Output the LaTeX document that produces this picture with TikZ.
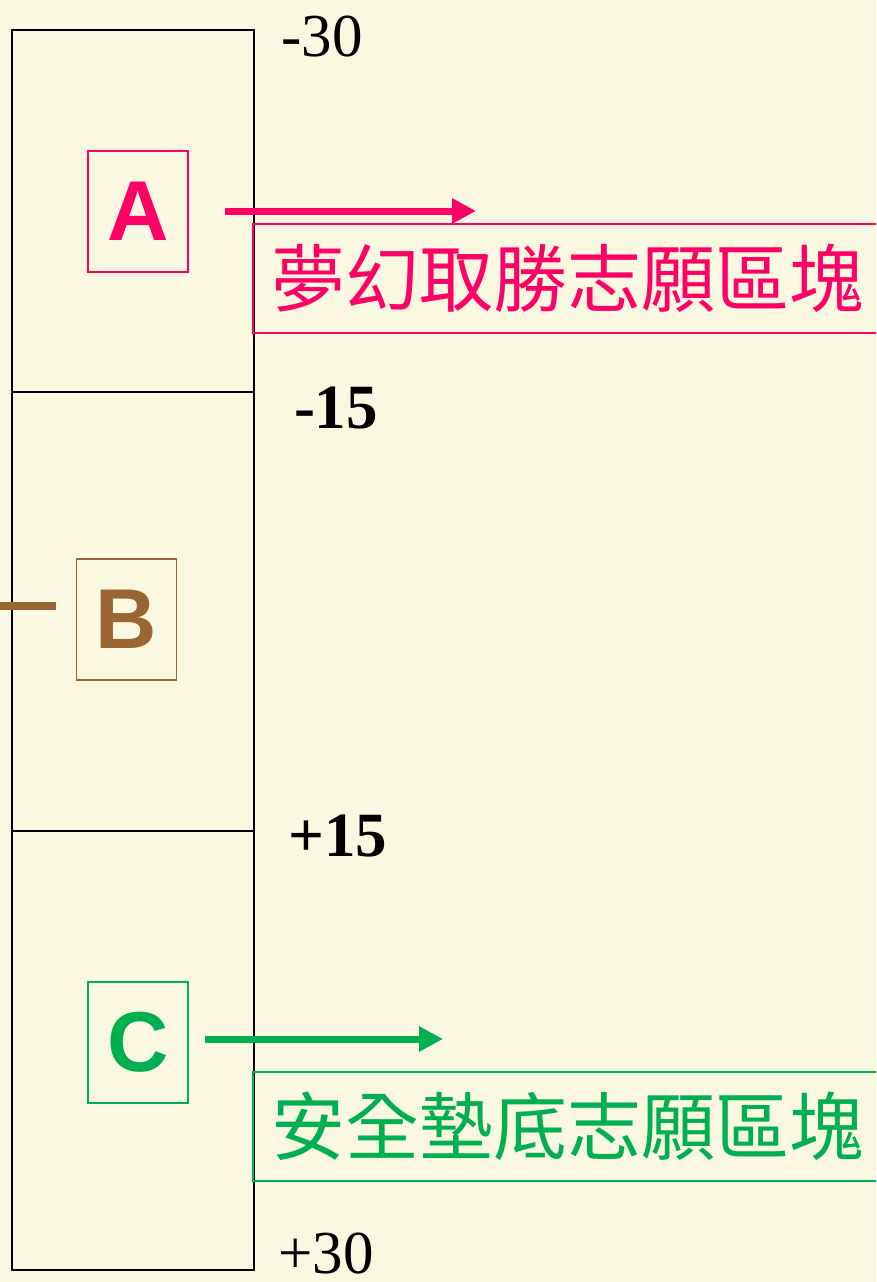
\documentclass[tikz,border=0pt]{standalone}
\usepackage{fontspec}
\setmainfont{Liberation Serif}
\newfontfamily\cjkfont{Noto Sans CJK TC}
\newfontfamily\boxfont{Liberation Sans}
\usetikzlibrary{arrows.meta}
\definecolor{paper}{RGB}{251,248,226}
\definecolor{dreampink}{RGB}{255,0,102}
\definecolor{midbrown}{RGB}{153,102,51}
\definecolor{safegreen}{RGB}{0,176,80}
\tikzset{
  letterbox/.style={draw=#1, text=#1, line width=1.5pt, minimum width=100pt, minimum height=121pt,
    inner sep=0pt, font=\boxfont\bfseries\fontsize{85}{85}\selectfont},
  zonebox/.style={draw=#1, text=#1, line width=1.5pt, minimum width=630pt, minimum height=109pt,
    anchor=north west, inner sep=0pt, font=\cjkfont\fontsize{74}{74}\selectfont},
  zonearrow/.style={draw=#1, line width=7pt, -{Triangle[length=24pt,width=24pt]}},
  scorelabel/.style={font=\fontsize{61}{61}\selectfont, inner sep=0pt},
  boldscore/.style={scorelabel, font=\bfseries\fontsize{63}{63}\selectfont}
}
\begin{document}
\begin{tikzpicture}[x=1pt,y=-1pt]
\fill[paper] (0,0) rectangle (876,1282);
\useasboundingbox (0,0) rectangle (876,1282);
\clip (0,0) rectangle (876,1282);
% score column
\draw[line width=1.5pt] (12,30) rectangle (254,1270);
\draw[line width=1.5pt] (12,392) -- (254,392);
\draw[line width=1.5pt] (12,831) -- (254,831);
\node[scorelabel] (top) at (322,37) {-30};
\node[boldscore] (upper) at (336,408) {-15};
\node[boldscore] (lower) at (338,836) {+15};
\node[scorelabel] (bottom) at (326,1253) {+30};
% zones
\node[letterbox=dreampink] (A) at (138,211.5) {A};
\node[letterbox=midbrown] (B) at (126.5,619.5) {B};
\node[letterbox=safegreen] (C) at (138,1042.5) {C};
\node[zonebox=dreampink] (dream) at (252,223) {夢幻取勝志願區塊};
\node[zonebox=safegreen] (safe) at (252,1071) {安全墊底志願區塊};
\coordinate (dreamtip) at (476,211);
\coordinate (safetip) at (443,1039);
\coordinate (bstub) at (0,606);
\draw[zonearrow=dreampink] ([xshift=36pt]A.east |- dreamtip) -- (dreamtip);
\draw[zonearrow=safegreen] ([xshift=16pt]C.east |- safetip) -- (safetip);
\draw[midbrown, line width=8pt] (bstub) -- ([xshift=-20pt]B.west |- bstub);
\end{tikzpicture}
\end{document}
